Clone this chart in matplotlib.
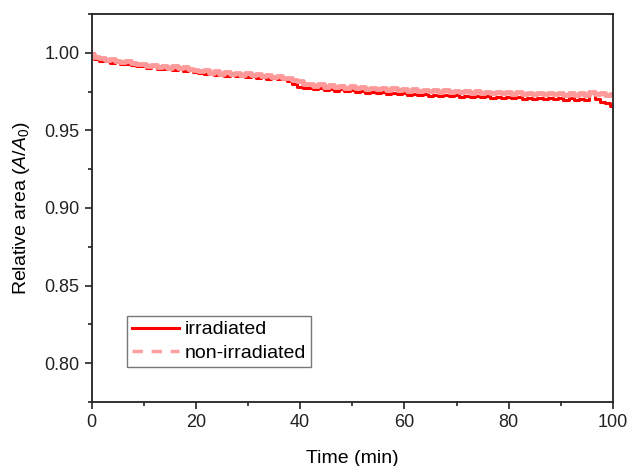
import numpy as np
import matplotlib
matplotlib.use("Agg")
import matplotlib.pyplot as plt
from matplotlib.lines import Line2D
from matplotlib.ticker import MultipleLocator

plt.rcParams['font.family'] = ['Liberation Sans', 'DejaVu Sans']
plt.rcParams['mathtext.fontset'] = 'custom'
plt.rcParams['mathtext.rm'] = 'Liberation Sans'
plt.rcParams['mathtext.it'] = 'Liberation Sans:italic'

# time axis, one reading per minute
time_min = np.arange(0, 101)

non_irradiated = [
    0.9995, 0.9972, 0.9968, 0.9955, 0.9960, 0.9948, 0.9942, 0.9950, 0.9932, 0.9928,
    0.9930, 0.9915, 0.9920, 0.9908, 0.9914, 0.9902, 0.9912, 0.9900, 0.9910, 0.9895,
    0.9892, 0.9880, 0.9888, 0.9872, 0.9880, 0.9866, 0.9876, 0.9862, 0.9872, 0.9860,
    0.9868, 0.9855, 0.9862, 0.9848, 0.9856, 0.9842, 0.9850, 0.9835, 0.9838, 0.9822,
    0.9815, 0.9798, 0.9802, 0.9788, 0.9796, 0.9782, 0.9792, 0.9780, 0.9788, 0.9776,
    0.9784, 0.9772, 0.9780, 0.9768, 0.9776, 0.9766, 0.9774, 0.9762, 0.9770, 0.9760,
    0.9768, 0.9756, 0.9765, 0.9754, 0.9762, 0.9751, 0.9760, 0.9750, 0.9758, 0.9748,
    0.9756, 0.9745, 0.9754, 0.9744, 0.9752, 0.9742, 0.9750, 0.9740, 0.9748, 0.9738,
    0.9747, 0.9737, 0.9745, 0.9736, 0.9744, 0.9734, 0.9743, 0.9733, 0.9742, 0.9732,
    0.9741, 0.9731, 0.9740, 0.9730, 0.9738, 0.9729, 0.9745, 0.9734, 0.9738, 0.9728,
    0.9732,
]

irradiated = [
    1.0000, 0.9958, 0.9950, 0.9945, 0.9934, 0.9940, 0.9926, 0.9930, 0.9920, 0.9912,
    0.9918, 0.9904, 0.9912, 0.9898, 0.9893, 0.9900, 0.9886, 0.9902, 0.9884, 0.9890,
    0.9874, 0.9868, 0.9862, 0.9868, 0.9856, 0.9860, 0.9852, 0.9864, 0.9850, 0.9856,
    0.9846, 0.9852, 0.9840, 0.9846, 0.9834, 0.9840, 0.9828, 0.9834, 0.9818, 0.9802,
    0.9778, 0.9770, 0.9776, 0.9764, 0.9770, 0.9760, 0.9768, 0.9756, 0.9764, 0.9752,
    0.9758, 0.9748, 0.9754, 0.9742, 0.9750, 0.9740, 0.9746, 0.9736, 0.9742, 0.9732,
    0.9738, 0.9728, 0.9736, 0.9726, 0.9732, 0.9724, 0.9730, 0.9722, 0.9728, 0.9719,
    0.9726, 0.9716, 0.9724, 0.9714, 0.9721, 0.9712, 0.9719, 0.9710, 0.9717, 0.9708,
    0.9715, 0.9706, 0.9713, 0.9704, 0.9711, 0.9702, 0.9709, 0.9701, 0.9708, 0.9700,
    0.9707, 0.9699, 0.9706, 0.9698, 0.9705, 0.9697, 0.9745, 0.9700, 0.9685, 0.9675,
    0.9655,
]

fig = plt.figure(figsize=(6.29, 4.66), dpi=100)
ax = fig.add_axes([0.1455, 0.1373, 0.829, 0.8327])

ax.plot(time_min, irradiated, color='#ff0000', lw=2.2, drawstyle='steps-mid')
ax.plot(time_min, non_irradiated, color='#ff9a9a', lw=3.5, drawstyle='steps-mid')

ax.set_xlim(0, 100)
ax.set_ylim(0.775, 1.025)
ax.xaxis.set_major_locator(MultipleLocator(20))
ax.xaxis.set_minor_locator(MultipleLocator(10))
ax.yaxis.set_minor_locator(MultipleLocator(0.025))
ax.set_yticks([0.80, 0.85, 0.90, 0.95, 1.00])
ax.set_yticklabels(['0.80', '0.85', '0.90', '0.95', '1.00'])

ax.tick_params(which='both', direction='out', top=False, right=False,
               labelsize=13, width=1.2, colors='#222222')
ax.tick_params(which='major', length=5)
ax.tick_params(which='minor', length=3)
for sp in ax.spines.values():
    sp.set_linewidth(1.3)
    sp.set_color('#222222')

ax.set_xlabel('Time (min)', fontsize=14, labelpad=14)
ax.set_ylabel('Relative area ($A$/$A_0$)', fontsize=14, labelpad=9)

# legend handles as drawn in the original (dashed pink for non-irradiated)
handles = [
    Line2D([], [], color='#ff0000', lw=2.2),
    Line2D([], [], color='#ffa0a0', lw=2.5, ls=(0, (3, 2.5))),
]
leg = ax.legend(handles, ['irradiated', 'non-irradiated'],
                loc='upper left', bbox_to_anchor=(0.068, 0.222), fontsize=14,
                frameon=True, fancybox=False, handlelength=2.4,
                borderpad=0.25, labelspacing=0.3, handletextpad=0.3,
                borderaxespad=0.0)
leg.get_frame().set_edgecolor('#555555')
leg.get_frame().set_linewidth(1.0)

fig.savefig('out.png', dpi=100)
